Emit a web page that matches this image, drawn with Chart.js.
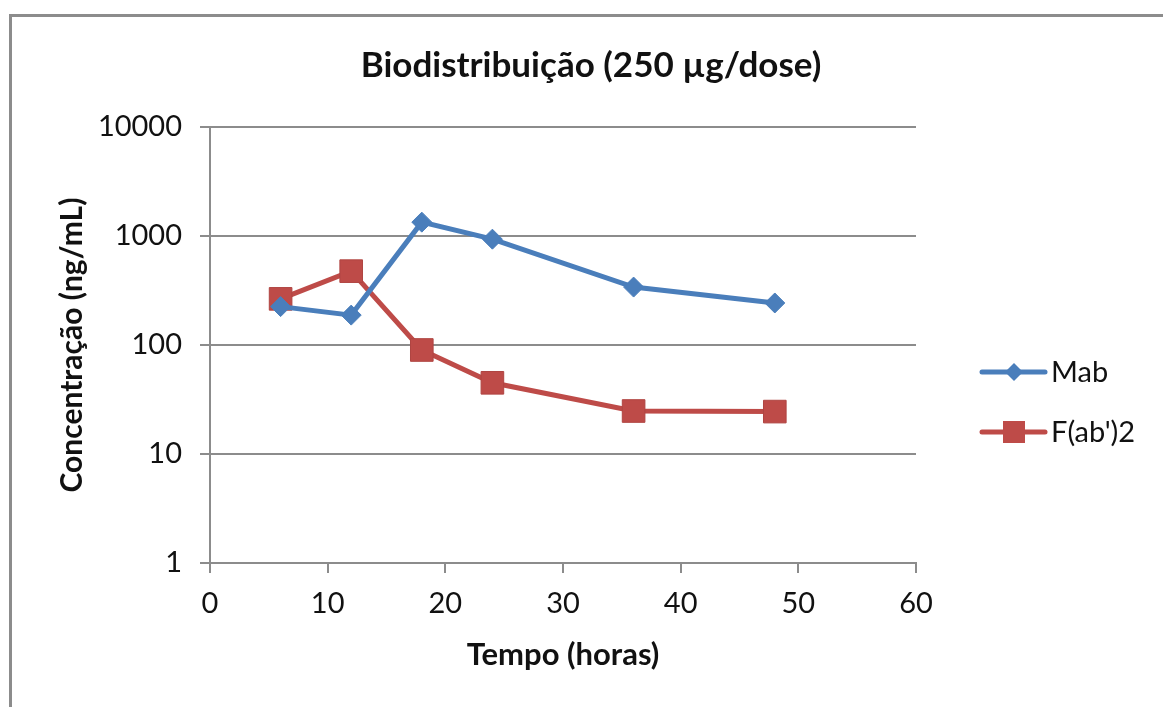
<!doctype html>
<html lang="pt-br">
<head>
  <meta charset="UTF-8">
  <title>Biodistribuição</title>
  <script src="https://cdn.jsdelivr.net/npm/chart.js"></script>
  <style>
    html, body { margin: 0; padding: 0; background: #fff; overflow: hidden; }
    .frame { position: absolute; left: 9px; top: 14px; width: 1200px; height: 760px; border-left: 3px solid #8c8c8c; border-top: 3px solid #8c8c8c; }
    .wrap { position: absolute; left: 0; top: 0; width: 1163px; height: 707px; }
  </style>
</head>
<body>
  <div class="frame"></div>
  <div class="wrap"><canvas id="chart" width="1163" height="707"></canvas></div>

  <script>
    // dados
    const horas = [6, 12, 18, 24, 36, 48];
    const mab = [225, 188, 1340, 935, 340, 243];
    const fab2 = [265, 476, 90, 45, 24.8, 24.5];
    const yTicks = [1, 10, 100, 1000, 10000];
    const seriesNames = ["Mab", "F(ab')2"];
    const chartTitle = "Biodistribuição (250 µg/dose)";

    const blue = "#4a7ebb";
    const red = "#be4b48";
    const font = "Lato, 'Open Sans', sans-serif";

    // título centrado na moldura + legenda desenhada à direita
    const extrasPlugin = {
      id: "extras",
      afterDraw(chart) {
        const ctx = chart.ctx;
        ctx.save();
        ctx.fillStyle = "#111";
        ctx.font = "bold 35px " + font;
        ctx.textAlign = "center";
        ctx.textBaseline = "middle";
        ctx.fillText(chartTitle, 591, 66);
        ctx.restore();

        const rows = [
          { y: 372, color: blue, style: "diamond", text: seriesNames[0] },
          { y: 432, color: red, style: "square", text: seriesNames[1] }
        ];
        rows.forEach((r) => {
          ctx.save();
          ctx.strokeStyle = r.color;
          ctx.lineWidth = 5;
          ctx.lineCap = "round";
          ctx.beginPath();
          ctx.moveTo(982, r.y);
          ctx.lineTo(1045, r.y);
          ctx.stroke();
          ctx.fillStyle = r.color;
          ctx.beginPath();
          if (r.style === "diamond") {
            ctx.moveTo(1014, r.y - 9);
            ctx.lineTo(1023, r.y);
            ctx.lineTo(1014, r.y + 9);
            ctx.lineTo(1005, r.y);
            ctx.closePath();
          } else {
            ctx.rect(1003, r.y - 11, 22, 22);
          }
          ctx.fill();
          ctx.fillStyle = "#111";
          ctx.font = "29px " + font;
          ctx.textBaseline = "middle";
          ctx.fillText(r.text, 1051, r.y + 1);
          ctx.restore();
        });
      }
    };

    new Chart(document.getElementById("chart").getContext("2d"), {
      type: "line",
      data: {
        datasets: [
          {
            label: seriesNames[0],
            data: horas.map((h, i) => ({ x: h, y: mab[i] })),
            borderColor: blue,
            backgroundColor: blue,
            borderWidth: 5,
            pointStyle: "rectRot",
            pointRadius: 10,
            pointBorderWidth: 1,
            tension: 0
          },
          {
            label: seriesNames[1],
            data: horas.map((h, i) => ({ x: h, y: fab2[i] })),
            borderColor: red,
            backgroundColor: red,
            borderWidth: 5,
            pointStyle: "rect",
            pointRadius: 16,
            pointBorderWidth: 1,
            pointBorderColor: "#b04542",
            tension: 0
          }
        ]
      },
      options: {
        responsive: false,
        animation: false,
        layout: { padding: { left: 40, right: 247, bottom: 20, top: 127 } },
        plugins: {
          legend: { display: false },
          tooltip: { enabled: false },
          title: { display: false }
        },
        scales: {
          x: {
            type: "linear",
            min: 0,
            max: 60,
            ticks: { stepSize: 10, color: "#111", font: { family: font, size: 29 }, padding: 13, maxRotation: 0 },
            grid: { drawOnChartArea: false, drawTicks: true, tickLength: 10, color: "#8c8c8c", lineWidth: 2 },
            border: { color: "#8c8c8c", width: 2 },
            title: {
              display: true,
              text: "Tempo (horas)",
              color: "#111",
              font: { family: font, size: 31, weight: "bold" },
              padding: { top: 0, bottom: 13 }
            },
            afterFit: (s) => { s.height = 124; }
          },
          y: {
            type: "logarithmic",
            min: 1,
            max: 10000,
            afterBuildTicks: (s) => { s.ticks = yTicks.map((v) => ({ value: v })); },
            ticks: { color: "#111", font: { family: font, size: 29 }, padding: 18, callback: (v) => String(v) },
            grid: { color: "#8c8c8c", lineWidth: 2, tickLength: 10 },
            border: { color: "#8c8c8c", width: 2 },
            title: {
              display: true,
              text: "Concentração (ng/mL)",
              color: "#111",
              font: { family: font, size: 30, weight: "bold" },
              padding: { top: 14, bottom: 0 }
            },
            afterFit: (s) => { s.width = 170; }
          }
        }
      },
      plugins: [extrasPlugin]
    });
  </script>
</body>
</html>
